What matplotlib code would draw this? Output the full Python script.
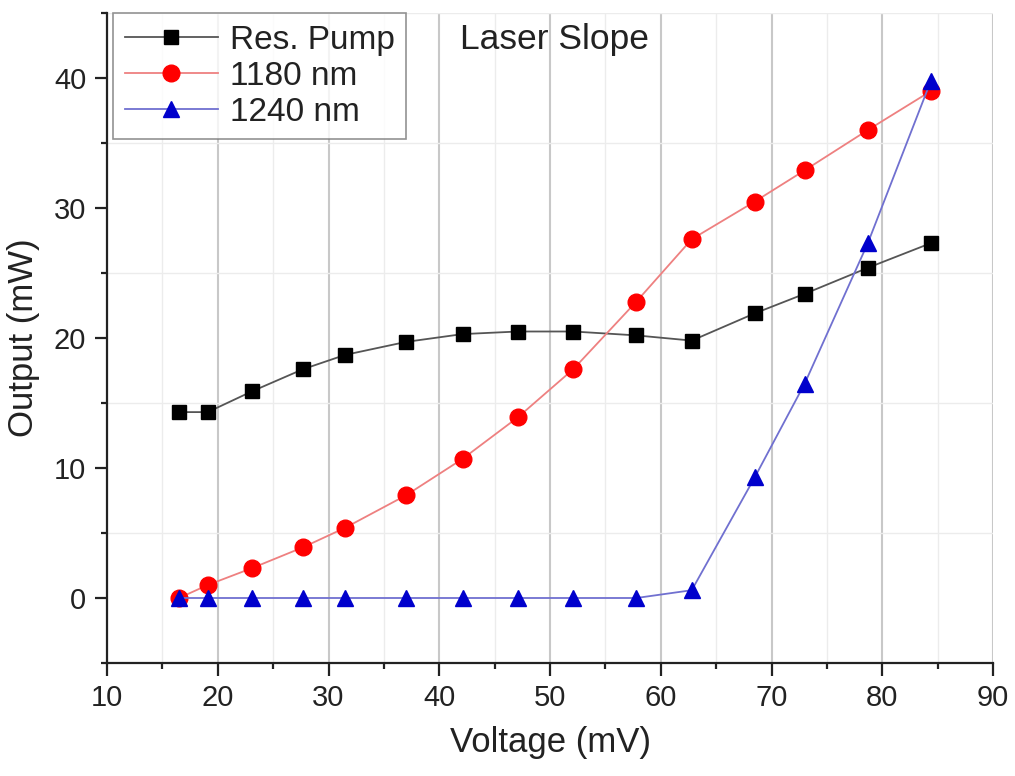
import numpy as np
import matplotlib.pyplot as plt
from matplotlib.ticker import MultipleLocator

plt.rcParams['font.family'] = ['Liberation Sans', 'DejaVu Sans']

# voltage (mV) for each measurement
voltage = [16.5, 19.1, 23.1, 27.7, 31.5, 37.0, 42.1, 47.1, 52.1, 57.8, 62.8, 68.5, 73.0, 78.7, 84.4]

# output power (mW)
res_pump = [14.3, 14.3, 15.9, 17.6, 18.7, 19.7, 20.3, 20.5, 20.5, 20.2, 19.8, 21.9, 23.4, 25.4, 27.3]
nm1180 = [0.0, 1.0, 2.3, 3.9, 5.4, 7.9, 10.7, 13.9, 17.6, 22.8, 27.6, 30.5, 32.9, 36.0, 39.0]
nm1240 = [0.0, 0.0, 0.0, 0.0, 0.0, 0.0, 0.0, 0.0, 0.0, 0.0, 0.6, 9.3, 16.5, 27.3, 39.8]

labels = ['Res. Pump', '1180 nm', '1240 nm']

fig = plt.figure(figsize=(10.15, 7.76), dpi=100)
ax = fig.add_axes([107/1015, 1-663/776, 886/1015, 650/776])

ax.plot(voltage, res_pump, color='#555555', lw=1.3, marker='s', ms=10.5,
        mfc='black', mec='black', label=labels[0], zorder=3)
ax.plot(voltage, nm1180, color='#ee8080', lw=1.3, marker='o', ms=12,
        mfc='#ff0000', mec='#ff0000', label=labels[1], zorder=4)
ax.plot(voltage, nm1240, color='#7070d0', lw=1.3, marker='^', ms=11.5,
        mfc='#0000cc', mec='#0000cc', label=labels[2], zorder=5)

ax.set_xlim(10, 90)
ax.set_ylim(-5, 45)
ax.xaxis.set_major_locator(MultipleLocator(10))
ax.xaxis.set_minor_locator(MultipleLocator(5))
ax.yaxis.set_major_locator(MultipleLocator(10))
ax.yaxis.set_minor_locator(MultipleLocator(5))

# grid: major + minor vertical, only minor horizontal
ax.grid(axis='x', which='major', color='#c8c8c8', lw=1.5)
ax.grid(axis='x', which='minor', color='#ececec', lw=1.0)
ax.grid(axis='y', which='minor', color='#ececec', lw=1.0)
ax.set_axisbelow(True)

for s in ['top', 'right']:
    ax.spines[s].set_visible(False)
for s in ['left', 'bottom']:
    ax.spines[s].set_linewidth(1.6)
    ax.spines[s].set_color('#222222')

ax.tick_params(which='major', direction='out', length=9, width=1.6,
               labelsize=21, colors='#222222', pad=6)
ax.tick_params(which='minor', direction='out', length=4.5, width=1.6, colors='#222222')

ax.set_xlabel('Voltage (mV)', fontsize=25, color='#222222', labelpad=10)
ax.set_ylabel('Output (mW)', fontsize=25, color='#222222', labelpad=10)

ax.text(41.9, 42.2, 'Laser Slope', fontsize=25.5, color='#222222', ha='left', va='baseline')

leg = ax.legend(loc='upper left', bbox_to_anchor=(6/886, 1.0), borderaxespad=0,
                fontsize=24, handlelength=2.8, handletextpad=0.35, labelspacing=0.15,
                borderpad=0.35, frameon=True, fancybox=False)
leg.get_frame().set_edgecolor('#777777')
leg.get_frame().set_linewidth(1.2)
for t in leg.get_texts():
    t.set_color('#222222')

fig.savefig('out.png', dpi=100)
